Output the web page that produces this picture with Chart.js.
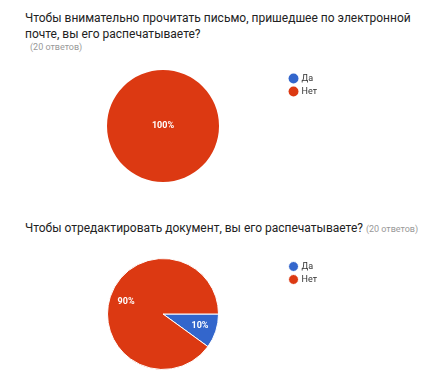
<!DOCTYPE html>
<html>
<head>
<meta charset="utf-8">
<script src="https://cdn.jsdelivr.net/npm/chart.js@4"></script>
<style>
  body { margin: 0; background: #fff; font-family: Roboto, "Noto Sans", sans-serif; }
  #wrap { position: relative; width: 444px; height: 384px; overflow: hidden; }
  .q { position: absolute; left: 25px; font-size: 12px; color: #222; line-height: 16px; }
  .cnt { font-size: 9px; color: #999; }
  .box { position: absolute; }
</style>
</head>
<body>
<div id="wrap">
  <div class="q" style="top:10px">Чтобы внимательно прочитать письмо, пришедшее по электронной<br>почте, вы его распечатываете?</div>
  <div class="q cnt" style="top:39px; left:30px">(20 ответов)</div>
  <div class="q" style="top:220px">Чтобы отредактировать документ, вы его распечатываете? <span class="cnt">(20 ответов)</span></div>
  <div class="box" style="left:28px; top:70px; width:299px; height:112px"><canvas id="c1"></canvas></div>
  <div class="box" style="left:28px; top:258px; width:299px; height:112px"><canvas id="c2"></canvas></div>
</div>
<script>
const labels = ["Да", "Нет"];
const answers1 = [0, 20];
const answers2 = [2, 18];
const colors = ["#3366cc", "#dc3912"];

// percent labels inside slices
const pctLabels = {
    id: "pctLabels",
    afterDatasetsDraw(chart) {
        const ctx = chart.ctx;
        const ds = chart.data.datasets[0];
        const total = ds.data.reduce((a, b) => a + b, 0);
        chart.getDatasetMeta(0).data.forEach((arc, i) => {
            const v = ds.data[i];
            if (!v) return;
            const pct = Math.round(v / total * 100);
            let x = arc.x, y = arc.y;
            if (pct < 100) {
                const mid = (arc.startAngle + arc.endAngle) / 2;
                x += Math.cos(mid) * arc.outerRadius * 0.7;
                y += Math.sin(mid) * arc.outerRadius * 0.7;
            }
            ctx.save();
            ctx.fillStyle = "#fff";
            ctx.font = "bold 9px Roboto";
            ctx.textAlign = "center";
            ctx.textBaseline = "middle";
            ctx.fillText(pct + "%", x, y);
            ctx.restore();
        });
    }
};

function makePie(id, values) {
    const full = values.filter(v => v > 0).length < 2;
    return new Chart(document.getElementById(id), {
        type: "pie",
        data: {
            labels: labels,
            datasets: [{
                data: values,
                backgroundColor: colors,
                borderColor: "#fff",
                borderWidth: full ? 0 : 1
            }]
        },
        options: {
            responsive: true,
            maintainAspectRatio: false,
            animation: false,
            rotation: 90,
            layout: { padding: { left: 12 } },
            plugins: {
                tooltip: { enabled: false },
                legend: {
                    position: "right",
                    align: "start",
                    labels: {
                        usePointStyle: true,
                        pointStyle: "circle",
                        boxWidth: 7,
                        boxHeight: 7,
                        padding: 4,
                        color: "#333",
                        font: { family: "Roboto", size: 9 }
                    }
                }
            }
        },
        plugins: [pctLabels]
    });
}

makePie("c1", answers1);
makePie("c2", answers2);
</script>
</body>
</html>
